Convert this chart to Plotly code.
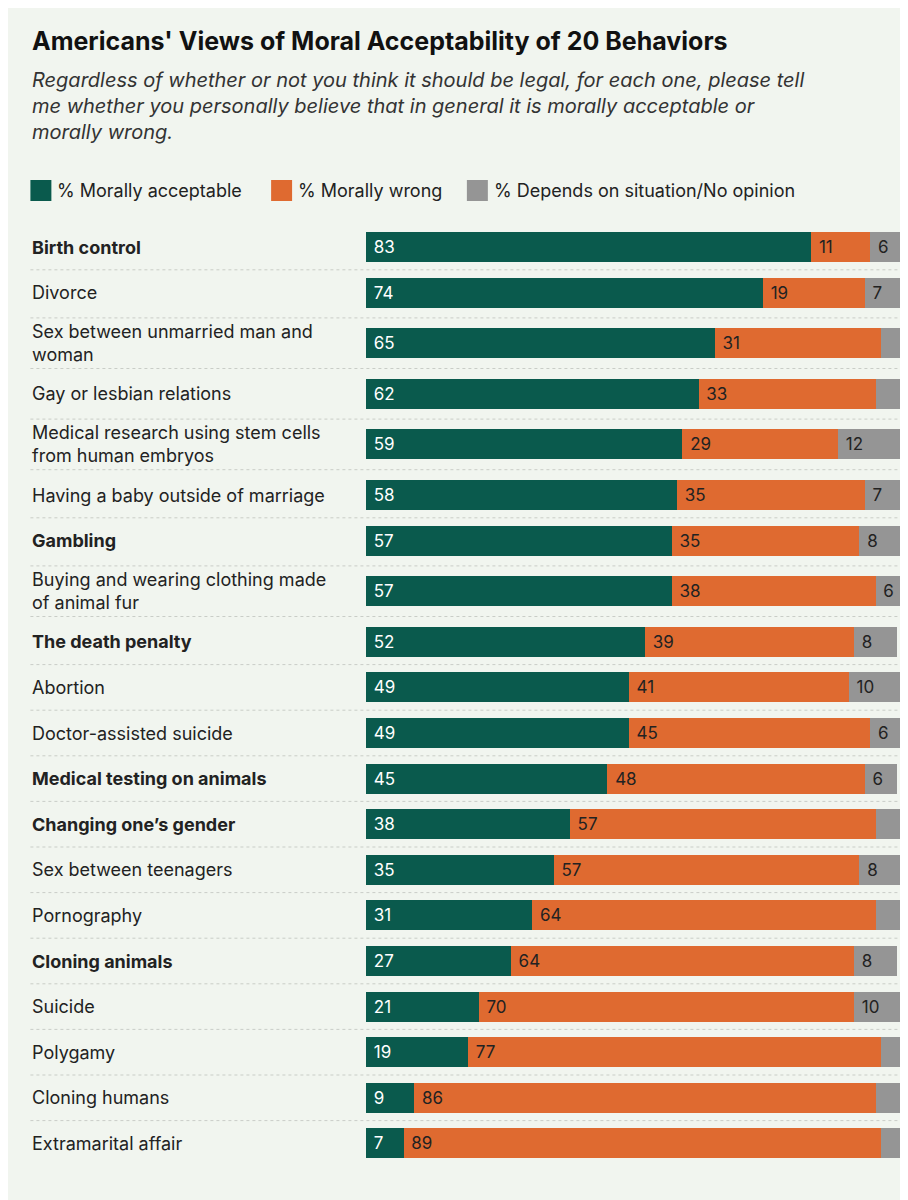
import plotly.graph_objects as go

behaviors = ["Birth control", "Divorce", "Sex between unmarried man and<br>woman",
             "Gay or lesbian relations", "Medical research using stem cells<br>from human embryos",
             "Having a baby outside of marriage", "Gambling",
             "Buying and wearing clothing made<br>of animal fur", "The death penalty", "Abortion",
             "Doctor-assisted suicide", "Medical testing on animals", "Changing one\u2019s gender",
             "Sex between teenagers", "Pornography", "Cloning animals", "Suicide", "Polygamy",
             "Cloning humans", "Extramarital affair"]
bold = ["Birth control", "Gambling", "The death penalty", "Medical testing on animals",
        "Changing one\u2019s gender", "Cloning animals"]
acceptable = [83, 74, 65, 62, 59, 58, 57, 57, 52, 49, 49, 45, 38, 35, 31, 27, 21, 19, 9, 7]
wrong = [11, 19, 31, 33, 29, 35, 35, 38, 39, 41, 45, 48, 57, 57, 64, 64, 70, 77, 86, 89]
depends = [6, 7, 4, 5, 12, 7, 8, 6, 8, 10, 6, 6, 5, 8, 5, 8, 10, 4, 5, 4]

GREEN, ORANGE, GREY = "#0a5a4d", "#df6a30", "#959595"
BG = "#f1f5ef"
FONT = "Inter, Open Sans, sans-serif"

# row centres in pixel units (y axis runs in pixels, top = 0)
ys = []
y = 239
for i, b in enumerate(behaviors):
    two = "<br>" in b
    if i > 0:
        prev_two = "<br>" in behaviors[i - 1]
        y += 45.6 + (5 if two else 0) + (5 if prev_two else 0)
    ys.append(y)

def px2p(px):
    # pixel -> paper x (plot area spans 358..905)
    return (px - 358) / (101.8 * 5.37)

fig = go.Figure()
for vals, col, tcol in [(acceptable, GREEN, "white"), (wrong, ORANGE, "#222"), (depends, GREY, "#222")]:
    fig.add_trace(go.Bar(
        x=vals, y=ys, orientation="h", width=30, marker=dict(color=col, line=dict(width=0)),
        text=[" " + str(v) if v >= 6 else "" for v in vals], textposition="inside",
        insidetextanchor="start", textangle=0,
        textfont=dict(color=tcol, size=17, family=FONT), hoverinfo="skip", showlegend=False))

shapes = []
annotations = []
for i, (b, yy) in enumerate(zip(behaviors, ys)):
    txt = f"<b>{b}</b>" if b in bold else b
    annotations.append(dict(x=px2p(22), y=yy, xref="paper", yref="y", text=txt, showarrow=False,
                            xanchor="left", yanchor="middle", align="left",
                            font=dict(size=18, color="#222", family=FONT)))
    if i < len(ys) - 1:
        mid = (yy + ys[i + 1]) / 2
        shapes.append(dict(type="line", xref="paper", yref="y", x0=px2p(22), x1=px2p(895),
                           y0=mid, y1=mid, line=dict(color="#c9cdc7", width=1, dash="dot")))

# title block
annotations.append(dict(x=px2p(22), y=33, xref="paper", yref="y", showarrow=False, xanchor="left",
                        yanchor="middle", text="<b>Americans' Views of Moral Acceptability of 20 Behaviors</b>",
                        font=dict(size=25, color="#111", family=FONT)))
annotations.append(dict(x=px2p(22), y=58, xref="paper", yref="y", showarrow=False, xanchor="left",
                        yanchor="top", align="left",
                        text="<i>Regardless of whether or not you think it should be legal, for each one, please tell<br>"
                             "me whether you personally believe that in general it is morally acceptable or<br>"
                             "morally wrong.</i>",
                        font=dict(size=20, color="#333", family=FONT)))

# legend
for x0, col, label in [(22, GREEN, "% Morally acceptable"), (263, ORANGE, "% Morally wrong"),
                       (459, GREY, "% Depends on situation/No opinion")]:
    shapes.append(dict(type="rect", xref="paper", yref="y", x0=px2p(x0), x1=px2p(x0 + 21),
                       y0=172, y1=193, fillcolor=col, line=dict(width=0)))
    annotations.append(dict(x=px2p(x0 + 25), y=182, xref="paper", yref="y", text=label, showarrow=False,
                            xanchor="left", yanchor="middle", font=dict(size=18, color="#222", family=FONT)))

fig.update_layout(
    barmode="stack", width=908, height=1200, margin=dict(l=358, r=908 - 358 - int(101.8 * 5.37), t=0, b=0),
    paper_bgcolor=BG, plot_bgcolor=BG, shapes=shapes, annotations=annotations,
    uniformtext=dict(minsize=17, mode="show"),
    xaxis=dict(range=[0, 101.8], visible=False, fixedrange=True),
    yaxis=dict(range=[1200, 0], visible=False, fixedrange=True),
    font=dict(family=FONT),
)
fig.write_html("out.html")
